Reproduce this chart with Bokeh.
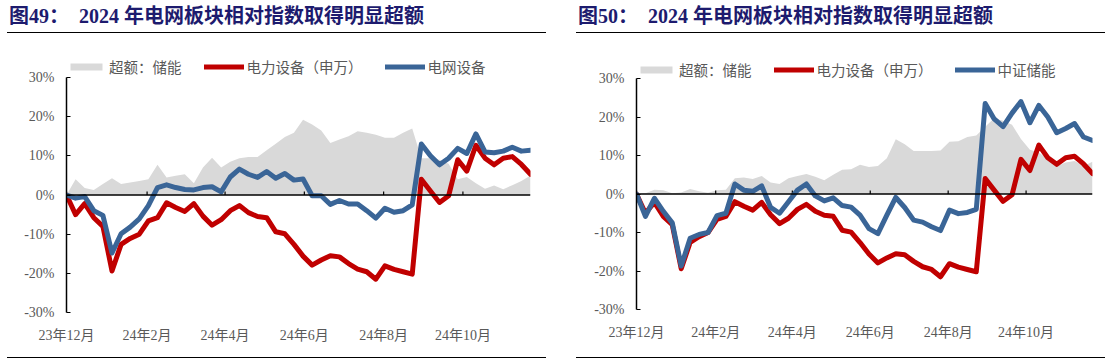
import pandas as pd
from bokeh.plotting import figure
from bokeh.models import (ColumnDataSource, Range1d, FixedTicker, PrintfTickFormatter,
                          Legend, LegendItem, Span, Div)
from bokeh.layouts import row, column
from bokeh.embed import file_html
from bokeh.resources import INLINE

# ---------------- data ----------------
week_dates = list(pd.date_range("2023-12-01", periods=52, freq="7D"))
tick_dates = ["2023-12-01", "2024-02-01", "2024-04-01", "2024-06-01", "2024-08-01", "2024-10-01"]
tick_labels = ["23年12月", "24年2月", "24年4月", "24年6月", "24年8月", "24年10月"]
y_ticks = [-30, -20, -10, 0, 10, 20, 30]

# 电力设备（申万）
power_equipment = [0, -5.0, -2.2, -5.8, -8.0, -19.4, -12.6, -11.1, -10.0, -6.6,
                   -5.8, -2.0, -3.2, -4.2, -2.2, -5.4, -7.7, -6.3, -4.0, -2.7,
                   -4.5, -5.5, -5.8, -9.4, -9.9, -12.6, -15.6, -17.9, -16.6, -15.5,
                   -15.8, -17.5, -18.9, -19.6, -21.5, -18.1, -19.0, -19.6, -20.2, 4.0,
                   1.0, -1.9, -0.2, 9.0, 6.1, 12.7, 9.4, 7.7, 9.4, 9.8,
                   7.8, 5.3]
# 电网设备
grid_equipment = [0, -0.8, -0.4, -4.0, -5.2, -14.8, -9.9, -8.2, -6.1, -2.7,
                  1.9, 2.6, 1.9, 1.4, 1.3, 1.9, 2.1, 0.8, 4.6, 6.6,
                  5.3, 4.5, 6.0, 4.3, 5.5, 3.8, 4.1, -0.2, -0.2, -2.4,
                  -1.4, -2.3, -2.3, -4.0, -5.9, -3.4, -4.4, -4.0, -2.5, 13.0,
                  10.0, 7.7, 9.4, 11.9, 10.6, 15.6, 11.0, 10.8, 11.2, 12.2,
                  11.2, 11.4]
# 中证储能
storage_index = [0, -5.8, -1.1, -4.5, -7.5, -18.7, -11.5, -10.5, -10.0, -5.6,
                 -5.0, 2.6, 1.0, 0.7, 2.1, -3.5, -5.0, -2.0, 1.0, 2.6,
                 -0.5, -1.8, -1.0, -3.0, -3.4, -5.5, -9.0, -10.3, -5.5, -0.9,
                 -3.5, -6.8, -7.3, -8.5, -9.5, -4.2, -5.1, -4.8, -4.0, 23.5,
                 19.5, 17.5, 21.0, 24.0, 18.5, 23.0, 20.0, 15.9, 17.0, 18.3,
                 14.8, 13.9]
# 超额：储能 (left panel)
excess_left = [0, 4.0, 1.8, 1.3, 2.8, 4.3, 2.8, 3.2, 3.6, 4.0,
               7.7, 4.5, 4.9, 5.3, 3.0, 7.0, 9.5, 7.0, 8.5, 9.4,
               9.7, 9.7, 11.4, 13.1, 14.8, 15.9, 19.2, 18.0, 16.5, 13.3,
               14.2, 15.0, 16.3, 15.9, 15.4, 14.6, 14.6, 15.9, 17.0, 9.4,
               9.4, 9.0, 8.0, 4.0, 4.6, 3.0, 1.6, 2.4, 1.5, 2.5,
               3.6, 5.0]
# 超额：储能 (right panel)
excess_right = [0, 0.2, 1.1, 1.0, 0.2, 0.4, 1.3, 0.7, 0.3, 1.0,
                1.1, 4.1, 4.3, 3.9, 4.7, 3.0, 2.6, 4.1, 4.7, 5.2,
                4.5, 3.6, 5.0, 6.3, 6.4, 7.6, 7.0, 7.3, 9.3, 14.2,
                12.9, 11.2, 11.2, 11.2, 11.3, 13.6, 13.7, 14.8, 15.2, 17.5,
                19.7, 19.0, 18.0, 14.3, 11.5, 10.8, 9.0, 7.3, 8.2, 8.6,
                7.3, 8.4]

titles = ["图49：&nbsp;&nbsp;2024 年电网板块相对指数取得明显超额",
          "图50：&nbsp;&nbsp;2024 年电网板块相对指数取得明显超额"]
legend_left_names = ["超额：储能", "电力设备（申万）", "电网设备"]
legend_right_names = ["超额：储能", "电力设备（申万）", "中证储能"]

# ---------------- helpers ----------------
start = week_dates[0]
days = [(d - start).days for d in week_dates]
tick_x = [(pd.Timestamp(t) - start).days for t in tick_dates]

SERIF = "Liberation Serif, Noto Sans CJK SC"
SANS = "Noto Sans CJK SC"
GREY_TXT = "#595959"
TITLE_H = 33
FIG_H = 324
FIG_TOP = TITLE_H
FIG_BOTTOM = TITLE_H + FIG_H


def build(title, names, second, excess, g):
    ppu = (g["y_m30"] - g["y_30"]) / 60.0
    y_end = 30 + (g["y_30"] - g["frame_top"]) / ppu
    p = figure(width=g["width"], height=FIG_H,
               x_range=Range1d(days[0], days[-1]), y_range=Range1d(-30, y_end),
               output_backend="svg", toolbar_location=None)
    p.min_border_left = g["frame_left"] - g["col_x"]
    p.min_border_right = g["col_x"] + g["width"] - g["frame_right"]
    p.min_border_top = g["frame_top"] - FIG_TOP
    p.min_border_bottom = FIG_BOTTOM - g["y_m30"]
    p.xgrid.visible = False
    p.ygrid.visible = False
    p.outline_line_color = None
    p.background_fill_color = "white"
    p.border_fill_color = "white"

    src = ColumnDataSource(dict(x=days, excess=excess, red=power_equipment, blue=second))
    area = p.varea(x="x", y1=0, y2="excess", source=src, fill_color="#D9D9D9")
    p.add_layout(Span(location=0, dimension="width", line_color="black", line_width=1.5))
    p.segment(x0=tick_x, y0=0, x1=tick_x, y1=0.9, line_color="black", line_width=1.2)
    red = p.line("x", "red", source=src, line_color="#C00000", line_width=5,
                 line_join="round", line_cap="round")
    blue = p.line("x", "blue", source=src, line_color="#3A6597", line_width=5,
                  line_join="round", line_cap="round")

    xa = p.xaxis[0]
    xa.ticker = FixedTicker(ticks=tick_x)
    xa.major_label_overrides = {t: lab for t, lab in zip(tick_x, tick_labels)}
    xa.axis_line_color = None
    xa.major_tick_line_color = None
    xa.minor_tick_line_color = None
    xa.major_label_standoff = 9
    xa.major_label_text_font = SERIF
    xa.major_label_text_font_size = "14px"
    xa.major_label_text_color = GREY_TXT

    ya = p.yaxis[0]
    ya.bounds = (-30, 30)
    ya.ticker = FixedTicker(ticks=y_ticks)
    ya.formatter = PrintfTickFormatter(format="%d%%")
    ya.axis_line_color = "black"
    ya.axis_line_width = 1.5
    ya.major_tick_line_color = "black"
    ya.major_tick_line_width = 1.2
    ya.major_tick_in = 4
    ya.major_tick_out = 0
    ya.minor_tick_line_color = None
    ya.major_label_standoff = 12
    ya.major_label_text_font = SERIF
    ya.major_label_text_font_size = "14px"
    ya.major_label_text_color = GREY_TXT

    legend = Legend(items=[LegendItem(label=names[0], renderers=[area]),
                           LegendItem(label=names[1], renderers=[red]),
                           LegendItem(label=names[2], renderers=[blue])],
                    orientation="horizontal", location="top_left",
                    glyph_width=40, glyph_height=9, label_standoff=3, spacing=22,
                    padding=0, margin=0, border_line_color=None,
                    background_fill_alpha=0, label_text_font=SANS,
                    label_text_font_size="14.5px", label_text_color=GREY_TXT,
                    label_height=18)
    p.add_layout(legend)

    rule_w = g["rule_right"] - g["rule_left"]
    off = g["rule_left"] - g["col_x"]
    head = Div(text=('<div style="font-family:\'Liberation Serif\',\'Noto Sans CJK SC\';'
                     'font-weight:bold;font-size:20px;color:#1d1b6e;line-height:32px;'
                     'white-space:nowrap;padding-left:%dpx;">%s</div>'
                     % (g["title_x"] - g["rule_left"], title)),
               width=rule_w, height=TITLE_H, margin=(0, g["width"] - rule_w - off, 0, off),
               styles={"border-bottom": "1.5px solid #000000", "overflow": "visible",
                       "box-sizing": "border-box"})
    foot = Div(text="", width=rule_w, height=2,
               margin=(0, g["width"] - rule_w - off, 0, off),
               styles={"border-top": "1.5px solid #000000", "box-sizing": "border-box"})
    return column(head, p, foot, spacing=0)


geo_left = dict(col_x=0, width=576, frame_left=66, frame_right=530, frame_top=56,
                y_30=77, y_m30=312, title_x=9, rule_left=7, rule_right=546)
geo_right = dict(col_x=576, width=529, frame_left=636, frame_right=1092, frame_top=59,
                 y_30=78, y_m30=309, title_x=578, rule_left=576, rule_right=1105)

c1 = build(titles[0], legend_left_names, grid_equipment, excess_left, geo_left)
c2 = build(titles[1], legend_right_names, storage_index, excess_right, geo_right)

layout = row(c1, c2, spacing=0)
open("out.html", "w").write(file_html(layout, INLINE))
